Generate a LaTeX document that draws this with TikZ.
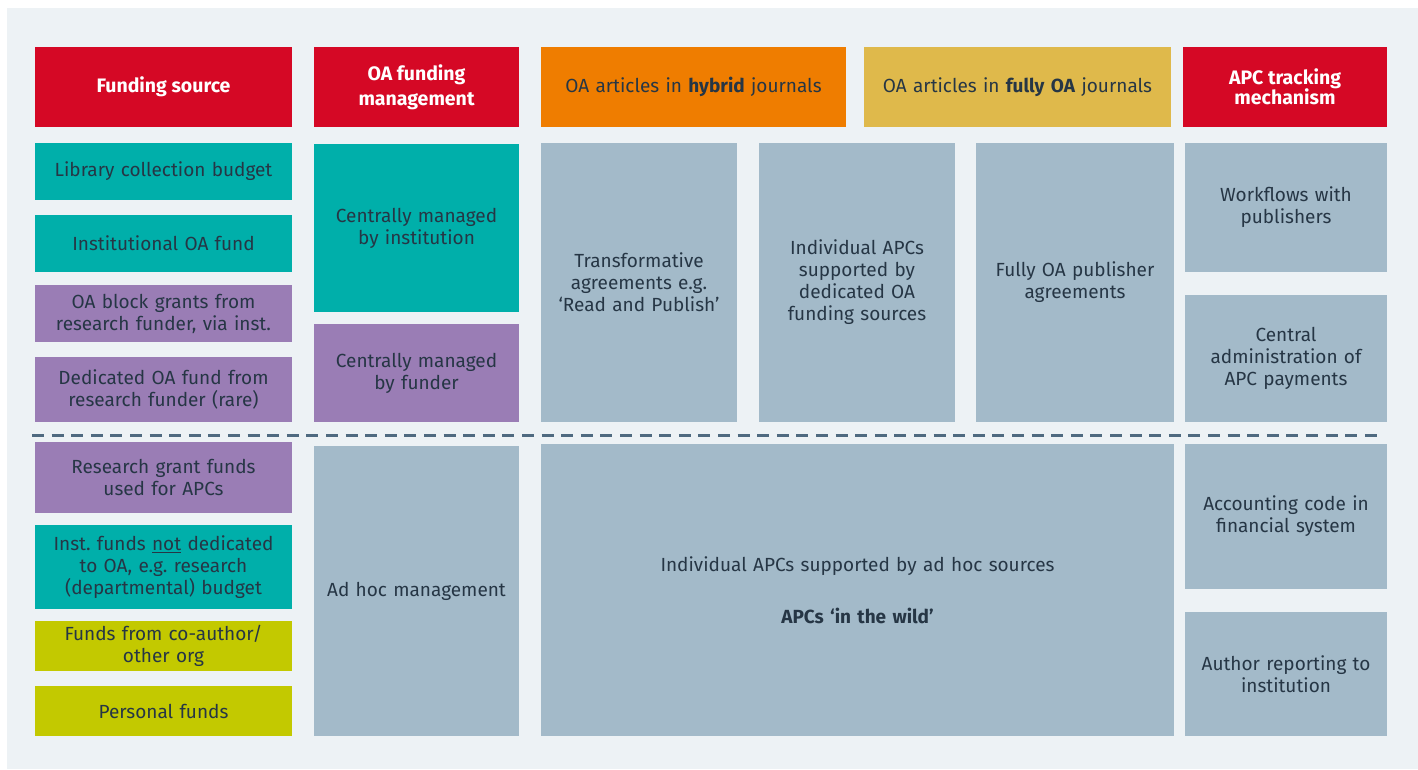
\documentclass[tikz,border=0pt]{standalone}
\usepackage{fontspec}
\setmainfont{Fira Sans}
\frenchspacing
\definecolor{bgc}{HTML}{EDF2F5}
\definecolor{hdred}{HTML}{D50825}
\definecolor{tealc}{HTML}{00AFAA}
\definecolor{purp}{HTML}{9A7DB5}
\definecolor{orng}{HTML}{EF7D00}
\definecolor{must}{HTML}{DFB94B}
\definecolor{lime}{HTML}{C3C900}
\definecolor{bgray}{HTML}{A3BAC9}
\definecolor{txt}{HTML}{263645}
\definecolor{dash}{HTML}{4F6A80}
\newcommand{\bx}[7]{%
  \pgfmathsetmacro{\bw}{#4-#2}\pgfmathsetmacro{\bh}{#5-#3}%
  \pgfmathsetmacro{\bcx}{(#2+#4)/2}\pgfmathsetmacro{\bcy}{(#3+#5)/2}%
  \node[cell, fill=#6, minimum width=\bw pt, minimum height=\bh pt, text width=\bw pt-12pt] (#1) at (\bcx,\bcy) {#7};}
\tikzset{
  cell/.style={draw=none, inner sep=0pt, outer sep=0pt, align=center, text=txt,
    font=\fontsize{19}{22}\selectfont},
  hdr/.style={text=white, font=\fontsize{19.5}{22}\selectfont\bfseries},
  sep/.style={draw=dash, line width=3pt, dash pattern=on 12pt off 7.6pt}
}
\begin{document}
\begin{tikzpicture}[x=1pt,y=-1pt]
\useasboundingbox (0,0) rectangle (1418,769);
\fill[white] (0,0) rectangle (1418,769);
\fill[bgc] (7,8) rectangle (1418,769);
% headers
\bx{h1}{35}{47}{292}{127}{hdred}{}
\node[hdr] at (h1) {Funding source};
\bx{h2}{314}{47}{519}{127}{hdred}{}
\node[hdr, align=center, font=\fontsize{19.5}{25}\selectfont\bfseries] at (h2) {OA funding\\management};
\bx{h3}{541}{47}{846}{127}{orng}{OA articles in \textbf{hybrid} journals}
\bx{h4}{864}{47}{1171}{127}{must}{OA articles in \textbf{fully OA} journals}
\bx{h5}{1183}{47}{1387}{127}{hdred}{}
\node[hdr, align=center, font=\fontsize{19.5}{20.5}\selectfont\bfseries] at (h5) {APC tracking\\mechanism};
% column 1
\bx{c1a}{35}{143}{292}{200}{tealc}{Library collection budget}
\bx{c1b}{35}{215}{292}{272}{tealc}{Institutional OA fund}
\bx{c1c}{35}{285}{292}{342}{purp}{OA block grants from\\research funder, via inst.}
\bx{c1d}{35}{357}{292}{422}{purp}{Dedicated OA fund from\\research funder (rare)}
\bx{c1e}{35}{442}{292}{513}{purp}{Research grant funds\\used for APCs}
\bx{c1f}{35}{525}{292}{609}{tealc}{Inst. funds \underline{not} dedicated\\to OA, e.g. research\\(departmental) budget}
\bx{c1g}{35}{621}{292}{671}{lime}{Funds from co-author/\\other org}
\bx{c1h}{35}{686}{292}{736}{lime}{Personal funds}
% column 2
\bx{c2a}{314}{144}{519}{312}{tealc}{Centrally managed\\by institution}
\bx{c2b}{314}{324}{519}{422}{purp}{Centrally managed\\by funder}
\bx{c2c}{314}{446}{519}{736}{bgray}{Ad hoc management}
% middle columns
\bx{m1}{541}{143}{737}{422}{bgray}{Transformative\\agreements e.g.\\‘Read and Publish’}
\bx{m2}{759}{143}{955}{422}{bgray}{Individual APCs\\supported by\\dedicated OA\\funding sources}
\bx{m3}{976}{143}{1174}{422}{bgray}{Fully OA publisher\\agreements}
\bx{big}{541}{444}{1174}{736}{bgray}{Individual APCs supported by ad hoc sources\\[30pt]\textbf{APCs ‘in the wild’}}
% column 6
\bx{r1}{1185}{143}{1387}{272}{bgray}{Workflows with\\publishers}
\bx{r2}{1185}{295}{1387}{422}{bgray}{Central\\administration of\\APC payments}
\bx{r3}{1185}{444}{1387}{589}{bgray}{Accounting code in\\financial system}
\bx{r4}{1185}{612}{1387}{736}{bgray}{Author reporting to\\institution}
% dashed separator
\coordinate (dl) at (32,435);
\coordinate (dr) at (1383,435);
\draw[sep] (dl) -- (dr);
\end{tikzpicture}
\end{document}
